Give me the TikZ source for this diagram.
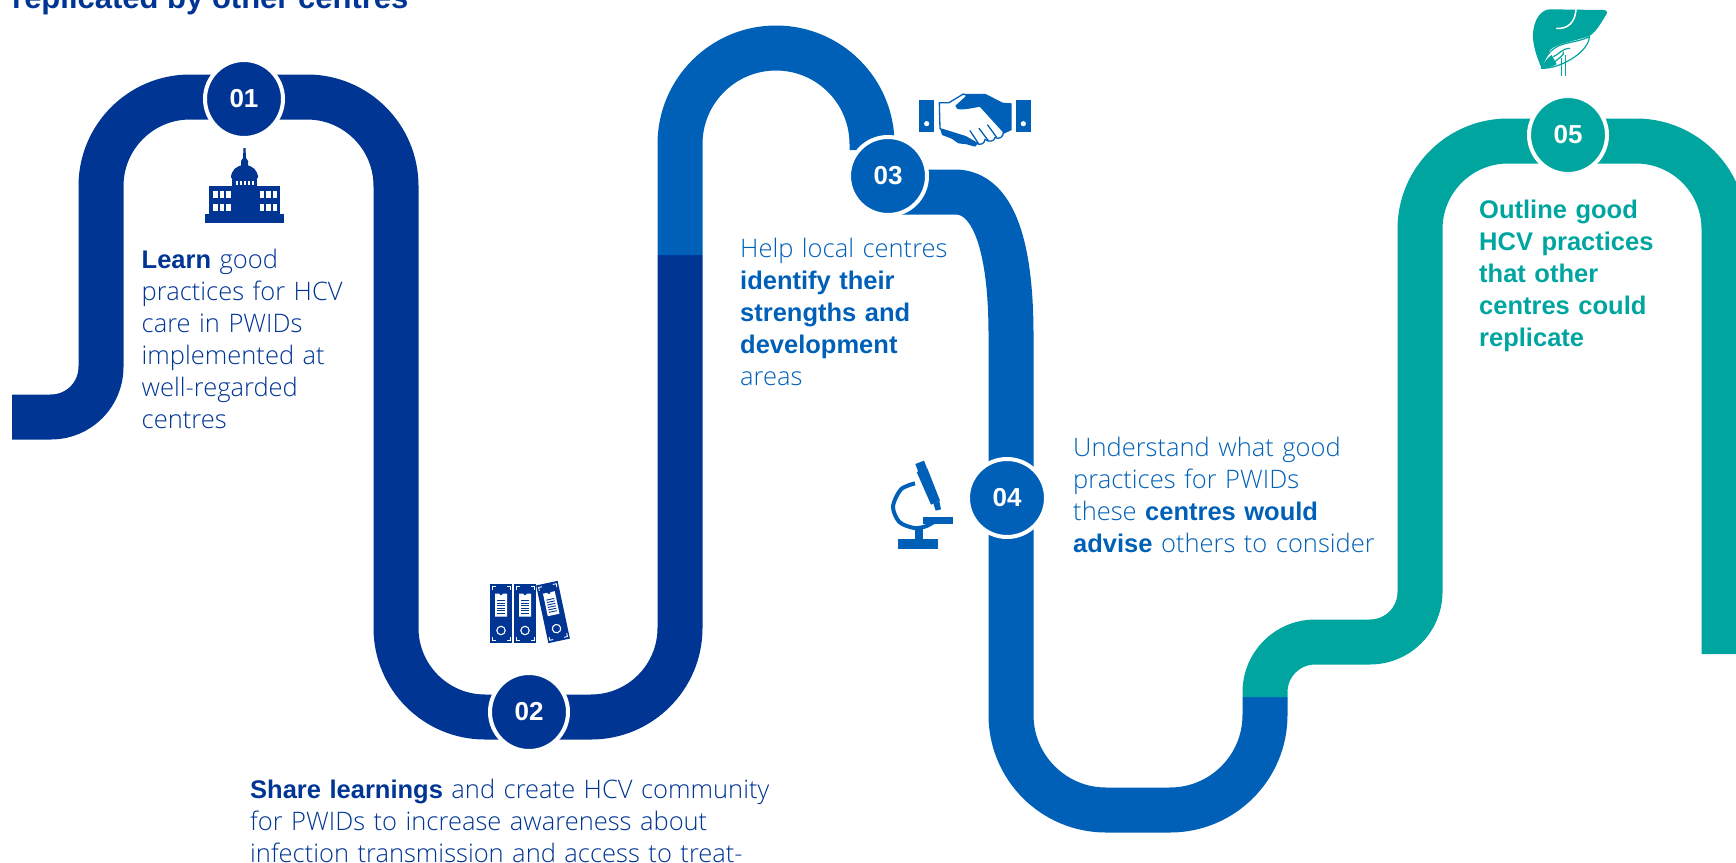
\documentclass[tikz,border=0pt]{standalone}
\usepackage{fontspec}
\setmainfont{Open Sans Light}[BoldFont={Liberation Sans Bold}]
\newfontfamily\numfont{Liberation Sans Bold}
\usetikzlibrary{calc}
\definecolor{cdark}{HTML}{003594}
\definecolor{cmid}{HTML}{0060B8}
\definecolor{cteal}{HTML}{00A5A0}
\tikzset{
  ribbon/.style={line width=45pt,line cap=butt,line join=round},
  stepcircle/.style={circle,draw=white,line width=4pt,minimum size=78pt,inner sep=0pt,text=white,font=\numfont\fontsize{26}{30}\selectfont},
  blurb/.style={anchor=base west,inner sep=0pt,align=left,text width=520pt,font=\fontsize{25.5}{32}\selectfont},
  pics/binder/.style={code={
    \fill[cdark] (-11,-29.5) rectangle (11,29.5);
    \fill[white] (-6,-20) -- (-2,-20) -- (0,-18) -- (2,-20) -- (6,-20) -- (6,3) -- (-6,3) -- cycle;
    \foreach \yy in {-13,-10.5,-8,-5.5,-3,-0.5}{\draw[cdark,line width=0.9pt] (-4,\yy) -- (4,\yy);}
    \draw[white,line width=1.1pt] (0,17) circle (4.2pt);
    \draw[white,line width=0.9pt] (-9,-23.5) -- (-9,-27) -- (-5.5,-27);
    \draw[white,line width=0.9pt] (9,-23.5) -- (9,-27) -- (5.5,-27);
    \draw[white,line width=0.9pt] (-9,23.5) -- (-9,27) -- (-5.5,27);
    \draw[white,line width=0.9pt] (9,23.5) -- (9,27) -- (5.5,27);
  }}
}
\begin{document}
\begin{tikzpicture}[x=1pt,y=-1pt]
\useasboundingbox (0,0) rectangle (1736,862);
\clip (0,0) rectangle (1736,862);

% step nodes positions
\coordinate (p01) at (244,99);
\coordinate (p02) at (529,712);
\coordinate (p03) at (888,176);
\coordinate (p04) at (1007,498);
\coordinate (p05) at (1568,135);
\coordinate (start) at (12,417);
\coordinate (turn) at (680,255);
\coordinate (shift) at (1265,697);
\coordinate (finish) at (1724,654);

% ribbon
\draw[ribbon,cdark] (start) [rounded corners=50pt] -- (101,417) [rounded corners=89pt] -- (101,97) -- (396,97) -- (396,717) -- (680,717) -- (turn);
\draw[ribbon,cmid,rounded corners=96pt] (turn) -- (680,48) -- (872,48) -- (872,150);
\draw[ribbon,cmid] (888,192) -- (955,192) .. controls (995,192) and (1011,250) .. (1011,335);
\draw[ribbon,cmid,rounded corners=95pt] (1011,335) -- (1011,810) -- (1265,810) -- (shift);
\draw[ribbon,cteal] (shift) [rounded corners=50pt] -- (1265,642) -- (1420,642) [rounded corners=88pt] -- (1420,141) -- (1724,141) -- (finish);

% circles
\node[stepcircle,fill=cdark] (c01) at (p01) {01};
\node[stepcircle,fill=cdark] (c02) at (p02) {02};
\node[stepcircle,fill=cmid] (c03) at (p03) {03};
\node[stepcircle,fill=cmid] (c04) at (p04) {04};
\node[stepcircle,fill=cteal] (c05) at (p05) {05};

% title
\node[anchor=base west,inner sep=0pt,text=cdark,font=\bfseries\fontsize{31}{36}\selectfont] (title) at (12,9) {replicated by other centres};

% texts
\node[blurb,text=cdark] (t1) at (141.5,268) {\textbf{Learn} good\\practices for HCV\\care in PWIDs\\implemented at\\well-regarded\\centres};
\node[blurb,text=cdark] (t2) at (250,798) {\textbf{Share learnings} and create HCV community\\for PWIDs to increase awareness about\\infection transmission and access to treatment};
\node[blurb,text=cmid] (t3) at (740,257) {Help local centres\\\textbf{identify their}\\\textbf{strengths and}\\\textbf{development}\\areas};
\node[blurb,text=cmid] (t4) at (1073,456) {Understand what good\\practices for PWIDs\\these \textbf{centres would}\\\textbf{advise} others to consider};
\node[blurb,text=cteal] (t5) at (1479,218) {\textbf{Outline good}\\\textbf{HCV practices}\\\textbf{that other}\\\textbf{centres could}\\\textbf{replicate}};

% building icon
\begin{scope}[cdark]
\fill (205,214) rectangle (284,223);
\fill (209,186) rectangle (280,214);
\fill (232,176) rectangle (257,214);
\fill (231,178) .. controls (231,170) and (237,165) .. (244.5,165) .. controls (252,165) and (258,170) .. (258,178) -- cycle;
\fill (243.5,148) -- (245.5,148) -- (246,158) -- (248,161) -- (248,166) -- (241,166) -- (241,161) -- (243,158) -- cycle;
\foreach \wx in {213,219.5,226,259.5,266,272.5}{
  \fill[white] (\wx,190.5) rectangle ++(4.5,7);
  \fill[white] (\wx,204) rectangle ++(4.5,7);
}
\foreach \wx in {235.5,239.5,243.5,247.5,251.5}{\fill[white] (\wx,181) rectangle ++(2,3.5);}
\end{scope}

% binders
\pic at (501,613.5) {binder};
\pic at (525,613.5) {binder};
\pic[rotate=12] at (553,612) {binder};

% handshake
\begin{scope}[shift={(820,80)},x=0.3333pt,y=-0.3333pt]
\fill[cmid] (297,60) rectangle (343,155);
\fill[cmid] (587,60) rectangle (633,155);
\fill[white] (320,131) circle (2.6pt);
\fill[white] (610,131) circle (2.6pt);
\fill[cmid] (405,85) -- (432,42) -- (497,42) -- (548,68) -- (575,70) -- (575,150) -- (550,162) -- (480,78) -- (420,90) -- cycle;
\fill[cmid] (360,145) -- (366,165) -- (395,176) -- (415,190) -- (440,193) -- (465,200) -- (480,185) -- (430,155) -- cycle;
\draw[cmid,fill=white,line width=1.3pt,line join=round] (358,68) -- (387,68) -- (430,42) -- (442,47) -- (408,78) .. controls (410,90) and (430,88) .. (480,78) -- (550,155) .. controls (552,172) and (535,180) .. (525,172) .. controls (525,184) and (505,188) .. (495,178) .. controls (495,192) and (478,198) .. (468,188) -- (437,170) -- (360,146) -- cycle;
\draw[cmid,line width=1.3pt,line cap=round] (450,152) -- (475,190);
\draw[cmid,line width=1.3pt,line cap=round] (477,145) -- (505,182);
\draw[cmid,line width=1.3pt,line cap=round] (503,135) -- (530,172);
\end{scope}

% microscope
\begin{scope}[shift={(870,440)},x=0.3333pt,y=-0.3333pt]
\fill[cmid] (85,296) rectangle (203,328);
\fill[cmid] (134,262) rectangle (160,296);
\draw[cmid,line width=4pt] plot[smooth] coordinates {(135,130) (93,148) (69,200) (88,246) (133,264) (170,258) (200,240)};
\fill[cmid] (160,230) rectangle (250,251);
\fill[cmid] (136,72) -- (162,62) -- (171,85) -- (145,96) -- cycle;
\fill[cmid] (140,96) -- (172,85) -- (210,182) -- (183,194) -- cycle;
\fill[cmid] (190,190) -- (208,183) -- (213,208) -- (197,212) -- cycle;
\end{scope}

% liver
\begin{scope}[shift={(1500,0)},x=0.3333pt,y=-0.3333pt]
\fill[cteal] (150,28) -- (310,30) .. controls (322,30) and (323,38) .. (318,45) .. controls (305,65) and (290,95) .. (268,108) .. controls (220,125) and (170,130) .. (150,150) -- (125,205) .. controls (105,160) and (95,120) .. (100,90) .. controls (105,55) and (125,28) .. (150,28) -- cycle;
\draw[white,line width=1.5pt,line cap=round] (170,85) .. controls (205,88) and (225,65) .. (228,30);
\draw[cteal,fill=white,line width=1.2pt] (268,110) .. controls (268,135) and (240,165) .. (200,185) .. controls (175,198) and (150,205) .. (125,205) .. controls (135,170) and (150,150) .. (175,138) .. controls (205,125) and (240,125) .. (268,110) -- cycle;
\fill[cteal] (125,205) .. controls (140,205) and (155,200) .. (170,193) -- (155,165) .. controls (140,175) and (130,190) .. (125,205) -- cycle;
\draw[cteal,line width=1.2pt] (185,175) -- (185,228);
\draw[cteal,line width=1.2pt] (197,165) -- (197,228);
\draw[cteal,line width=1.2pt] (160,170) .. controls (175,165) and (185,145) .. (210,145);
\draw[cteal,line width=1.2pt] (165,185) .. controls (175,175) and (195,165) .. (190,155);
\end{scope}
\end{tikzpicture}
\end{document}
